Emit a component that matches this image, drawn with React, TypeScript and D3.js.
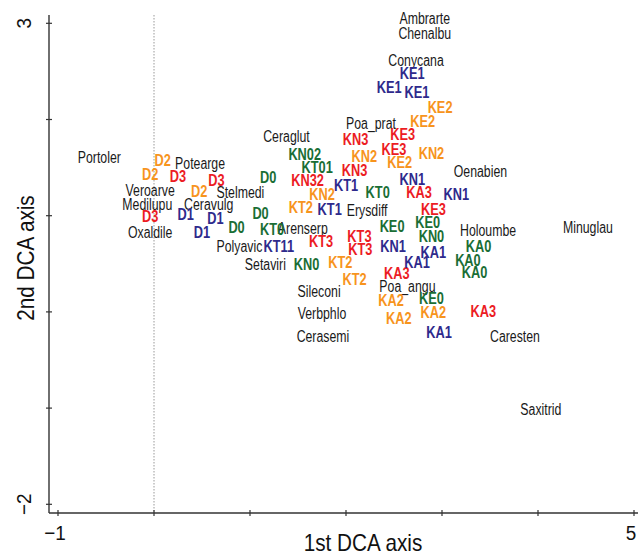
import React from 'react';
import * as d3 from 'd3';

// species scores (black labels)
const speciesNames = [
  'Ambrarte', 'Chenalbu', 'Conycana', 'Poa_prat', 'Ceraglut', 'Portoler', 'Potearge',
  'Stelmedi', 'Veroarve', 'Medilupu', 'Ceravulg', 'Oxaldile', 'Polyavic', 'Setaviri',
  'Arenserp', 'Erysdiff', 'Oenabien', 'Holoumbe', 'Minuglau', 'Sileconi', 'Poa_angu',
  'Verbphlo', 'Cerasemi', 'Caresten', 'Saxitrid',
];
const speciesX = [
  2.82, 2.82, 2.73, 2.26, 1.38, -0.57, 0.48, 0.9, -0.04, -0.07, 0.57, -0.04, 0.89, 1.16,
  1.55, 2.22, 3.4, 3.48, 4.52, 1.72, 2.64, 1.75, 1.76, 3.76, 4.03,
];
const speciesY = [
  3.05, 2.9, 2.61, 1.96, 1.82, 1.61, 1.54, 1.24, 1.26, 1.12, 1.12, 0.83, 0.68, 0.49,
  0.87, 1.06, 1.46, 0.85, 0.88, 0.21, 0.26, -0.02, -0.25, -0.25, -1.01,
];

// sample scores, coloured by group
const groupColours: Record<string, string> = {
  dry: '#f7941d',
  red: '#ec1c24',
  green: '#1a6e35',
  blue: '#2e2a8c',
};
const sampleNames = [
  'D2', 'D2', 'D2', 'D3', 'D3', 'D3', 'D1', 'D1', 'D1', 'D0', 'D0', 'D0',
  'KN02', 'KT01', 'KT0', 'KT0', 'KE0', 'KE0', 'KE0', 'KN0', 'KN0', 'KA0', 'KA0', 'KA0',
  'KN32', 'KN3', 'KN3', 'KE3', 'KE3', 'KE3', 'KA3', 'KA3', 'KA3', 'KT3', 'KT3', 'KT3',
  'KN2', 'KN2', 'KN2', 'KE2', 'KE2', 'KE2', 'KT2', 'KT2', 'KT2', 'KA2', 'KA2', 'KA2',
  'KE1', 'KE1', 'KE1', 'KN1', 'KN1', 'KN1', 'KT1', 'KT1', 'KT11', 'KA1', 'KA1', 'KA1',
];
const sampleGroups = [
  'dry', 'dry', 'dry', 'red', 'red', 'red', 'blue', 'blue', 'blue', 'green', 'green', 'green',
  'green', 'green', 'green', 'green', 'green', 'green', 'green', 'green', 'green', 'green', 'green', 'green',
  'red', 'red', 'red', 'red', 'red', 'red', 'red', 'red', 'red', 'red', 'red', 'red',
  'dry', 'dry', 'dry', 'dry', 'dry', 'dry', 'dry', 'dry', 'dry', 'dry', 'dry', 'dry',
  'blue', 'blue', 'blue', 'blue', 'blue', 'blue', 'blue', 'blue', 'blue', 'blue', 'blue', 'blue',
];
const sampleX = [
  0.09, -0.04, 0.47, 0.25, 0.65, -0.04, 0.33, 0.64, 0.5, 1.19, 1.11, 0.86,
  1.57, 1.7, 1.23, 2.33, 2.48, 2.85, 2.89, 1.59, 2.89, 3.38, 3.27, 3.34,
  1.6, 2.1, 2.09, 2.59, 2.5, 2.91, 2.76, 2.53, 3.43, 1.74, 2.14, 2.15,
  2.19, 2.89, 1.75, 2.98, 2.8, 2.56, 1.53, 1.94, 2.09, 2.47, 2.91, 2.55,
  2.69, 2.45, 2.74, 2.69, 3.15, 2.49, 2.0, 1.83, 1.3, 2.91, 2.74, 2.97,
];
const sampleY = [
  1.57, 1.43, 1.25, 1.41, 1.37, 0.99, 1.01, 0.97, 0.83, 1.4, 1.02, 0.88,
  1.64, 1.5, 0.86, 1.24, 0.89, 0.93, 0.14, 0.49, 0.78, 0.68, 0.54, 0.41,
  1.37, 1.79, 1.47, 1.84, 1.69, 1.07, 1.24, 0.4, 0.01, 0.73, 0.78, 0.65,
  1.62, 1.65, 1.22, 2.13, 1.98, 1.55, 1.09, 0.51, 0.34, 0.12, -0.01, -0.07,
  2.48, 2.33, 2.28, 1.38, 1.22, 0.68, 1.31, 1.07, 0.68, 0.62, 0.51, -0.21,
];

const xTicks = [-1, 0, 1, 2, 3, 4, 5];
const yTicks = [-2, -1, 0, 1, 2, 3];
const xTickLabels = ['−1', '', '', '', '', '', '5'];
const yTickLabels = ['−2', '', '', '', '', '3'];

const W = 638;
const H = 556;
// no narrow face installed, so Liberation Sans is squeezed horizontally instead
const sans = "'Liberation Sans', Arial, sans-serif";

export default function App() {
  const x = d3.scaleLinear().domain([-1, 5]).range([58, 634]);
  const y = d3.scaleLinear().domain([-2, 3]).range([504.3, 23.3]);
  const left = 49;
  const bottom = 513;
  const top = 15;
  const axisColour = '#333';

  return (
    <svg
      width={W}
      height={H}
      viewBox={`0 0 ${W} ${H}`}
      style={{ position: 'absolute', left: 0, top: 0, background: '#fff' }}
    >
      {/* zero line */}
      <line
        x1={x(0)}
        x2={x(0)}
        y1={top}
        y2={bottom}
        stroke="#999"
        strokeWidth={1}
        strokeDasharray="1.5 1.5"
      />

      {/* axes */}
      <line x1={left} x2={left} y1={top} y2={bottom} stroke={axisColour} strokeWidth={1.4} />
      <line x1={left} x2={W} y1={bottom} y2={bottom} stroke={axisColour} strokeWidth={1.4} />
      {yTicks.map((t, i) => (
        <g key={`yt${t}`}>
          <line x1={left - 3} x2={left + 3} y1={y(t)} y2={y(t)} stroke={axisColour} strokeWidth={1.2} />
          {yTickLabels[i] && (
            <text
              transform={`translate(31,${y(t)}) rotate(-90) scale(0.9,1)`}
              textAnchor="middle"
              fontFamily={sans}
              fontSize={21}
              fill="#111"
            >
              {yTickLabels[i]}
            </text>
          )}
        </g>
      ))}
      {xTicks.map((t, i) => (
        <g key={`xt${t}`}>
          <line x1={x(t)} x2={x(t)} y1={bottom - 3} y2={bottom + 3} stroke={axisColour} strokeWidth={1.2} />
          {xTickLabels[i] && (
            <text
              transform={`translate(${x(t) - 3},540) scale(0.9,1)`}
              textAnchor="middle"
              fontFamily={sans}
              fontSize={21}
              fill="#111"
            >
              {xTickLabels[i]}
            </text>
          )}
        </g>
      ))}

      <text
        transform="translate(363,551) scale(0.9,1)"
        textAnchor="middle"
        fontFamily={sans}
        fontSize={23}
        fill="#111"
      >
        1st DCA axis
      </text>
      <text
        transform="translate(34,258) rotate(-90) scale(0.9,1)"
        textAnchor="middle"
        fontFamily={sans}
        fontSize={23}
        fill="#111"
      >
        2nd DCA axis
      </text>

      {/* species */}
      {speciesNames.map((name, i) => (
        <text
          key={`sp${i}`}
          transform={`translate(${x(speciesX[i])},${y(speciesY[i])}) scale(0.77,1)`}
          dy="0.35em"
          textAnchor="middle"
          fontFamily={sans}
          fontSize={16}
          fill="#1a1a1a"
        >
          {name}
        </text>
      ))}

      {/* samples */}
      {sampleNames.map((name, i) => (
        <text
          key={`sa${i}`}
          transform={`translate(${x(sampleX[i])},${y(sampleY[i])}) scale(0.8,1)`}
          dy="0.35em"
          textAnchor="middle"
          fontFamily={sans}
          fontWeight={700}
          fontSize={16}
          fill={groupColours[sampleGroups[i]]}
        >
          {name}
        </text>
      ))}
    </svg>
  );
}
